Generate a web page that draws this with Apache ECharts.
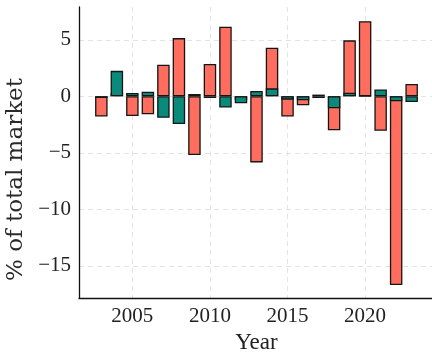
<!DOCTYPE html>
<html>
<head>
<meta charset="utf-8">
<script src="https://cdn.jsdelivr.net/npm/echarts@6/dist/echarts.min.js"></script>
<style>
  html, body { margin: 0; padding: 0; background: #ffffff; }
  #chart { width: 432px; height: 353px; }
</style>
</head>
<body>
<div id="chart"></div>
<script>
// Yearly change in market share (percentage points)
const years = [2003, 2004, 2005, 2006, 2007, 2008, 2009, 2010, 2011, 2012, 2013,
               2014, 2015, 2016, 2017, 2018, 2019, 2020, 2021, 2022, 2023];
const redValues = [-1.8, 0.3, -1.75, -1.6, 2.8, 5.15, -5.2, 2.85, 6.15, -0.3, -5.85,
                   4.3, -1.8, -0.8, 0.15, -3.0, 4.95, 6.65, -3.05, -16.7, 1.08];
const tealValues = [-0.15, 2.25, 0.3, 0.4, -1.9, -2.45, 0.2, -0.15, -1.0, -0.62, 0.47,
                    0.7, -0.3, -0.35, -0.15, -1.07, 0.32, 0.05, 0.6, -0.45, -0.5];
const xTicks = [2005, 2010, 2015, 2020];
const yTicks = [-15, -10, -5, 0, 5];

const SERIF = '"Liberation Serif", "DejaVu Serif", serif';
const WIDE_SERIF = '"DejaVu Serif", "Liberation Serif", serif';
const gridLine = { show: true, lineStyle: { color: '#e3e3e3', type: [5, 4], width: 1 } };
const minusFmt = v => (v < 0 ? '\u2212' + Math.abs(v) : String(v));

const barStyle = color => ({ color: color, borderColor: '#151515', borderWidth: 1.3 });

const chart = echarts.init(document.getElementById('chart'), null, { renderer: 'canvas' });
chart.setOption({
  animation: false,
  backgroundColor: '#ffffff',
  grid: { left: 79, right: -2, top: 7, bottom: 55, containLabel: false, outerBoundsMode: 'none' },
  xAxis: {
    type: 'value',
    min: 2001.56,
    max: 2024.44,
    name: 'Year',
    nameLocation: 'middle',
    nameGap: 31,
    nameTextStyle: { fontFamily: SERIF, fontSize: 23, color: '#222' },
    axisLine: { show: true, onZero: false, lineStyle: { color: '#111', width: 1.3 } },
    axisTick: { show: false, customValues: xTicks },
    axisLabel: { customValues: xTicks, formatter: v => String(v), fontFamily: SERIF, fontSize: 21, color: '#222', margin: 8 },
    splitLine: gridLine
  },
  yAxis: {
    type: 'value',
    min: -17.85,
    max: 7.9,
    name: '% of total market',
    nameLocation: 'middle',
    nameGap: 48,
    nameTextStyle: { fontFamily: WIDE_SERIF, fontSize: 23, color: '#2a2a2a', padding: [0, 54, 0, 0] },
    axisLine: { show: true, onZero: false, lineStyle: { color: '#111', width: 1.3 } },
    axisTick: { show: false, customValues: yTicks },
    axisLabel: { customValues: yTicks, formatter: minusFmt, fontFamily: SERIF, fontSize: 21, color: '#222', margin: 8 },
    splitLine: gridLine
  },
  series: [
    {
      type: 'bar',
      barWidth: 12.5,
      barGap: '-100%',
      itemStyle: barStyle('#ff6d5e'),
      data: years.map((y, i) => [y, redValues[i]])
    },
    {
      type: 'bar',
      barWidth: 12.5,
      barGap: '-100%',
      itemStyle: barStyle('#0a8a7a'),
      data: years.map((y, i) => [y, tealValues[i]])
    }
  ]
});
</script>
</body>
</html>
